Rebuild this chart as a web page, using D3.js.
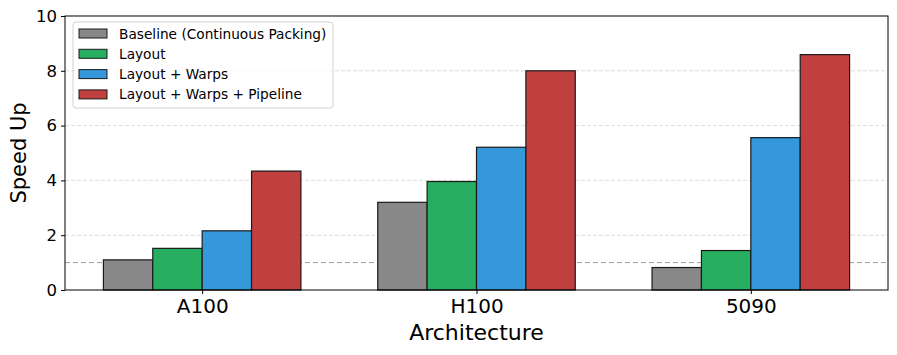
<!DOCTYPE html>
<html>
<head>
<meta charset="utf-8">
<script src="https://cdn.jsdelivr.net/npm/d3@7"></script>
<style>
  body { margin: 0; background: #fff; }
  text { font-family: "DejaVu Sans", sans-serif; }
</style>
</head>
<body>
<div id="chart"></div>
<script>
// chart data
var architectures = ["A100", "H100", "5090"];
var seriesNames = ["Baseline (Continuous Packing)", "Layout", "Layout + Warps", "Layout + Warps + Pipeline"];
var baseline = [1.10, 3.20, 0.82];
var layout = [1.52, 3.96, 1.44];
var layoutWarps = [2.16, 5.21, 5.56];
var layoutWarpsPipeline = [4.34, 8.0, 8.59];
var yTicks = [0, 2, 4, 6, 8, 10];
var colors = ["#888888", "#27ae60", "#3498db", "#c04040"];

var allSeries = [baseline, layout, layoutWarps, layoutWarpsPipeline];

var W = 897, H = 355;
var margin = {left: 65, right: 9, top: 16, bottom: 65};
var barWidth = 0.18;

var svg = d3.select("#chart").append("svg")
    .attr("width", W).attr("height", H);

var x = d3.scaleLinear().domain([-0.5, 2.5]).range([margin.left, W - margin.right]);
var y = d3.scaleLinear().domain([0, 10]).range([H - margin.bottom, margin.top]);

var g = svg.append("g");

// grid lines
g.selectAll("line.grid")
    .data(yTicks.slice(1, -1))
    .enter().append("line")
    .attr("x1", x(-0.5)).attr("x2", x(2.5))
    .attr("y1", function(d) { return y(d); })
    .attr("y2", function(d) { return y(d); })
    .style("stroke", "#d4d4d4")
    .style("stroke-width", 0.8)
    .style("stroke-dasharray", "4,2");

// baseline reference at 1.0
g.append("line")
    .attr("x1", x(-0.5)).attr("x2", x(2.5))
    .attr("y1", y(1)).attr("y2", y(1))
    .style("stroke", "#a0a0a0")
    .style("stroke-width", 1)
    .style("stroke-dasharray", "5,3");

// bars
allSeries.forEach(function(vals, s) {
    g.selectAll("rect.s" + s)
        .data(vals)
        .enter().append("rect")
        .attr("x", function(d, i) { return x(i + (s - 2) * barWidth); })
        .attr("width", x(barWidth) - x(0))
        .attr("y", function(d) { return y(d); })
        .attr("height", function(d) { return y(0) - y(d); })
        .style("fill", colors[s])
        .style("stroke", "#1a1a1a")
        .style("stroke-width", 1.2);
});

// frame
svg.append("rect")
    .attr("x", x(-0.5)).attr("y", y(10))
    .attr("width", x(2.5) - x(-0.5)).attr("height", y(0) - y(10))
    .style("fill", "none").style("stroke", "#000").style("stroke-width", 1);

// axes
var yAxis = d3.axisLeft(y).tickValues(yTicks).tickSize(4).tickPadding(4);
var ya = svg.append("g").attr("transform", "translate(" + x(-0.5) + ",0)").call(yAxis);
ya.select(".domain").remove();
ya.selectAll("text").style("font-size", "16.5px").style("fill", "#000");

var xAxis = d3.axisBottom(x).tickValues([0, 1, 2])
    .tickFormat(function(d) { return architectures[d]; }).tickSize(4).tickPadding(5);
var xa = svg.append("g").attr("transform", "translate(0," + y(0) + ")").call(xAxis);
xa.select(".domain").remove();
xa.selectAll("text").style("font-size", "20px").style("fill", "#000");

// axis labels
svg.append("text")
    .attr("transform", "translate(26," + ((y(0) + y(10)) / 2) + ") rotate(-90)")
    .attr("text-anchor", "middle")
    .style("font-size", "21px")
    .text("Speed Up");

svg.append("text")
    .attr("x", (x(-0.5) + x(2.5)) / 2).attr("y", 340)
    .attr("text-anchor", "middle")
    .style("font-size", "22px")
    .text("Architecture");

// legend
var leg = svg.append("g").attr("transform", "translate(73,22)");
leg.append("rect")
    .attr("width", 260).attr("height", 86).attr("rx", 3)
    .style("fill", "#fff").style("fill-opacity", 0.8)
    .style("stroke", "#d0d0d0");
seriesNames.forEach(function(name, i) {
    var row = leg.append("g").attr("transform", "translate(6," + (7 + i * 20.3) + ")");
    row.append("rect")
        .attr("width", 28).attr("height", 9).attr("y", 0)
        .style("fill", colors[i]).style("stroke", "#1a1a1a").style("stroke-width", 1);
    row.append("text")
        .attr("x", 40).attr("y", 9.5)
        .style("font-size", "13.7px")
        .text(name);
});
</script>
</body>
</html>
